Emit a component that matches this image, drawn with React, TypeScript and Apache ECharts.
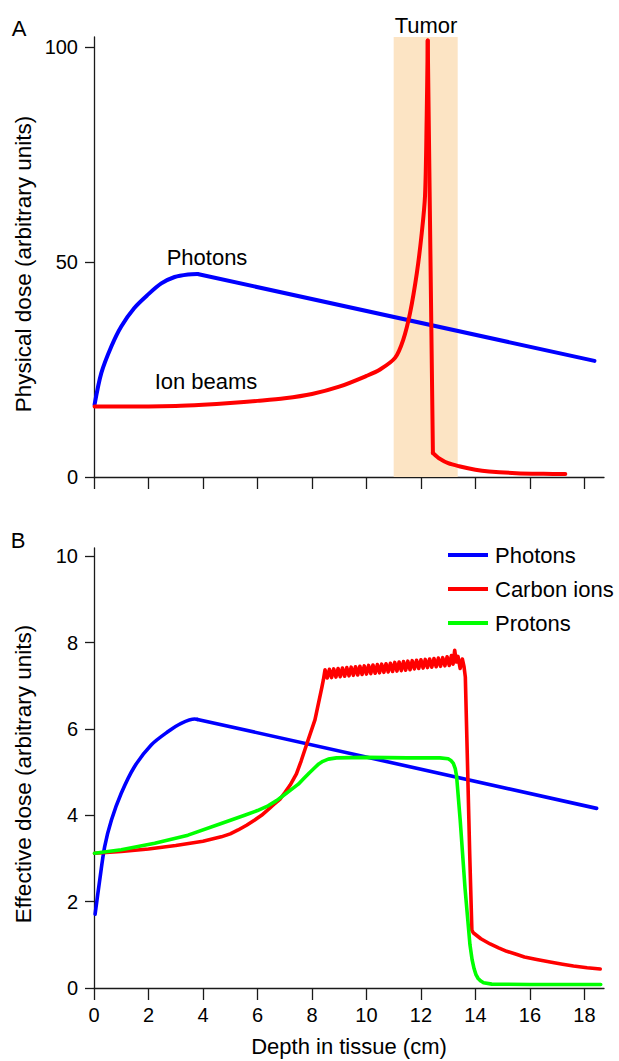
import React, { useEffect, useRef } from 'react';
import * as echarts from 'echarts';

const FONT = '"Liberation Sans", Arial, Helvetica, sans-serif';

// Axis ticks
const DEPTH_TICKS = [0, 2, 4, 6, 8, 10, 12, 14, 16, 18];
const PHYS_TICKS = [0, 50, 100];
const EFF_TICKS = [0, 2, 4, 6, 8, 10];

// Panel A – physical dose vs depth (cm)
// photons: build-up region, then exponential-like decline
const physPhotonsBuildUp: [number, number][] = [
  [0.02, 16.8], [0.27, 24.2], [0.64, 30.4], [1.0, 35.0], [1.48, 39.3],
  [1.98, 42.4], [2.47, 45.0], [2.96, 46.5], [3.45, 47.1], [3.8, 47.2],
];
const physPhotonsDecline: [number, number][] = [
  [3.8, 47.2], [18.37, 27.0],
];
// ion beam: entrance plateau and Bragg peak build-up
const physIonsEntrance: [number, number][] = [
  [0.02, 16.4], [1, 16.4], [2, 16.4], [3, 16.5], [4, 16.8], [5, 17.2],
  [6, 17.7], [7, 18.3], [8, 19.3], [9, 21.0], [10, 23.5], [10.5, 25.0],
  [11.05, 27.7], [11.35, 31.9], [11.6, 38.1], [11.85, 47.4], [12.03, 56.7],
  [12.15, 65.3], [12.21, 83.0], [12.25, 101.5],
];
// ion beam: distal fall-off and fragmentation tail
const physIonsFalloff: [number, number][] = [
  [12.25, 101.5], [12.44, 5.6],
];
const physIonsTail: [number, number][] = [
  [12.44, 5.6], [12.7, 4.2], [13.0, 3.2], [13.4, 2.5], [14.0, 1.7],
  [14.5, 1.3], [15.5, 0.9], [16.5, 0.75], [17.3, 0.7],
];
const tumorRange = [11.0, 13.35];

// Panel B – effective dose vs depth (cm)
const effPhotonsBuildUp: [number, number][] = [
  [0.04, 1.71], [0.21, 2.5], [0.39, 3.27], [0.64, 3.89], [1.0, 4.51],
  [1.49, 5.13], [2.1, 5.63], [2.72, 5.94], [3.2, 6.13], [3.7, 6.23],
  [3.8, 6.22],
];
const effPhotonsDecline: [number, number][] = [
  [3.8, 6.22], [18.45, 4.16],
];
const effCarbon: [number, number][] = [
  [0.02, 3.12], [1.0, 3.16], [2.0, 3.22], [3.0, 3.3], [4.0, 3.4],
  [4.67, 3.5], [5.0, 3.57], [5.29, 3.66], [5.6, 3.77], [5.9, 3.89],
  [6.15, 4.0], [6.39, 4.13], [6.6, 4.25], [6.82, 4.37], [7.0, 4.52],
  [7.2, 4.7], [7.43, 4.96], [7.6, 5.25], [7.81, 5.65], [8.11, 6.21],
  [8.36, 6.95], [8.42, 7.14],
  [8.48, 7.37], [8.56, 7.18], [8.64, 7.38], [8.72, 7.19], [8.80, 7.39],
  [8.88, 7.20], [8.96, 7.40], [9.04, 7.21], [9.12, 7.41], [9.20, 7.22],
  [9.28, 7.42], [9.36, 7.23], [9.44, 7.43], [9.52, 7.24], [9.60, 7.44],
  [9.68, 7.25], [9.76, 7.45], [9.84, 7.26], [9.92, 7.46], [10.00, 7.27],
  [10.08, 7.47], [10.16, 7.28], [10.24, 7.48], [10.32, 7.29], [10.40, 7.49],
  [10.48, 7.30], [10.56, 7.50], [10.64, 7.31], [10.72, 7.51], [10.80, 7.32],
  [10.88, 7.52], [10.96, 7.33], [11.04, 7.54], [11.12, 7.34], [11.20, 7.55],
  [11.28, 7.35], [11.36, 7.56], [11.44, 7.36], [11.52, 7.57], [11.60, 7.37],
  [11.68, 7.58], [11.76, 7.39], [11.84, 7.59], [11.92, 7.40], [12.00, 7.60],
  [12.08, 7.41], [12.16, 7.61], [12.24, 7.42], [12.32, 7.62], [12.40, 7.43],
  [12.48, 7.63], [12.56, 7.44], [12.64, 7.64], [12.72, 7.45], [12.80, 7.65],
  [12.88, 7.46], [12.96, 7.67], [13.04, 7.47], [13.12, 7.70], [13.18, 7.50],
  [13.24, 7.82], [13.30, 7.55], [13.36, 7.68], [13.44, 7.40], [13.52, 7.62],
  [13.58, 7.45], [13.63, 7.20], [13.70, 5.44], [13.79, 3.12], [13.87, 1.34],
  [13.92, 1.28], [14.2, 1.14], [14.54, 1.02], [14.85, 0.93], [15.15, 0.85],
  [15.5, 0.78], [15.8, 0.72], [16.25, 0.66], [16.74, 0.6], [17.2, 0.55],
  [17.6, 0.51], [18.1, 0.47], [18.58, 0.44],
];
const effProtons: [number, number][] = [
  [0.02, 3.12], [1.0, 3.2], [2.23, 3.35], [3.45, 3.54], [4.67, 3.81],
  [5.53, 4.0], [6.0, 4.11], [6.39, 4.22], [6.7, 4.34], [7.0, 4.48],
  [7.25, 4.6], [7.5, 4.72], [7.7, 4.85], [7.9, 4.98], [8.1, 5.1],
  [8.25, 5.19], [8.4, 5.25], [8.6, 5.3], [8.9, 5.33], [10.0, 5.34],
  [11.5, 5.33], [12.7, 5.33], [13.0, 5.31], [13.1, 5.27], [13.19, 5.2],
  [13.26, 5.08], [13.31, 4.9], [13.44, 3.9], [13.62, 2.3], [13.8, 1.0],
  [13.88, 0.65], [13.95, 0.45], [14.02, 0.31], [14.1, 0.22], [14.2, 0.16],
  [14.3, 0.12], [14.6, 0.09], [16.0, 0.08], [18.6, 0.08],
];

const LEGEND_NAMES = ['Photons', 'Carbon ions', 'Protons'];

const BLUE = '#0000ff';
const RED = '#ff0000';
const GREEN = '#00ff00';
const AXIS_COLOR = '#1a1a1a';

function xAxisFor(gridIndex: number, withLabels: boolean) {
  return {
    type: 'value',
    gridIndex,
    min: 0,
    max: 18.72,
    axisLine: { show: true, onZero: false, lineStyle: { color: AXIS_COLOR, width: 1.3 } },
    axisTick: { show: true, length: 12, customValues: DEPTH_TICKS, lineStyle: { color: AXIS_COLOR, width: 1.3 } },
    axisLabel: {
      show: withLabels,
      customValues: DEPTH_TICKS,
      fontSize: 20,
      fontFamily: FONT,
      color: '#000',
      margin: 17,
    },
    splitLine: { show: false },
    ...(withLabels
      ? {
          name: 'Depth in tissue (cm)',
          nameLocation: 'middle',
          nameGap: 47,
          nameTextStyle: { fontSize: 22, fontFamily: FONT, color: '#000' },
        }
      : {}),
  };
}

function yAxisFor(gridIndex: number, max: number, ticks: number[]) {
  return {
    type: 'value',
    gridIndex,
    min: 0,
    max,
    axisLine: { show: true, onZero: false, lineStyle: { color: AXIS_COLOR, width: 1.3 } },
    axisTick: { show: true, length: 9, customValues: ticks, lineStyle: { color: AXIS_COLOR, width: 1.3 } },
    axisLabel: {
      customValues: ticks,
      fontSize: 20,
      fontFamily: FONT,
      color: '#000',
      margin: 16,
    },
    splitLine: { show: false },
  };
}

function txt(text: string, x: number, y: number, size = 22, extra: any = {}) {
  return {
    type: 'text',
    x,
    y,
    ...extra,
    style: {
      text,
      fill: '#000',
      fontSize: size,
      fontFamily: FONT,
      align: 'center',
      verticalAlign: 'middle',
    },
  };
}

export default function App() {
  const ref = useRef<HTMLDivElement>(null);

  useEffect(() => {
    if (!ref.current) return;
    const chart = echarts.init(ref.current, null, { renderer: 'svg' });
    const lineSeries = (
      name: string,
      data: [number, number][],
      color: string,
      width: number,
      idx: number,
      extra: any = {},
    ) => ({
      type: 'line',
      name,
      data,
      xAxisIndex: idx,
      yAxisIndex: idx,
      showSymbol: false,
      symbol: 'none',
      color,
      lineStyle: { color, width, join: 'round', cap: 'round' },
      emphasis: { disabled: true },
      ...extra,
    });
    const smooth = { smooth: 0.3 };

    chart.setOption({
      animation: false,
      backgroundColor: '#ffffff',
      textStyle: { fontFamily: FONT },
      grid: [
        { left: 94, top: 37, width: 510, height: 440, outerBoundsMode: 'none' },
        { left: 94, top: 548, width: 510, height: 440, outerBoundsMode: 'none' },
      ],
      xAxis: [xAxisFor(0, false), xAxisFor(1, true)],
      yAxis: [yAxisFor(0, 102.3, PHYS_TICKS), yAxisFor(1, 10.19, EFF_TICKS)],
      legend: {
        data: LEGEND_NAMES,
        orient: 'vertical',
        left: 448,
        top: 544,
        padding: 0,
        itemWidth: 40,
        itemHeight: 4,
        itemGap: 12,
        icon: 'rect',
        selectedMode: false,
        textStyle: { fontSize: 22, fontFamily: FONT, color: '#000', lineHeight: 22, padding: [0, 0, 0, 2] },
      },
      series: [
        lineSeries('Photons', physPhotonsBuildUp, BLUE, 4, 0, {
          ...smooth,
          markArea: {
            silent: true,
            itemStyle: { color: '#fce4c4' },
            data: [[{ xAxis: tumorRange[0], yAxis: 0 }, { xAxis: tumorRange[1], yAxis: 102.3 }]],
          },
        }),
        lineSeries('Photons', physPhotonsDecline, BLUE, 4, 0),
        lineSeries('Ion beams', physIonsEntrance, RED, 4, 0, smooth),
        lineSeries('Ion beams', physIonsFalloff, RED, 4, 0),
        lineSeries('Ion beams', physIonsTail, RED, 4, 0, smooth),
        lineSeries('Photons', effPhotonsBuildUp, BLUE, 3.6, 1, smooth),
        lineSeries('Photons', effPhotonsDecline, BLUE, 3.6, 1),
        lineSeries('Carbon ions', effCarbon, RED, 3.6, 1),
        lineSeries('Protons', effProtons, GREEN, 3.6, 1),
      ],
      graphic: [
        txt('A', 19, 28),
        txt('B', 18, 540),
        txt('Tumor', 426, 25),
        txt('Photons', 207, 257),
        txt('Ion beams', 206, 381),
        txt('Physical dose (arbitrary units)', 23, 264, 22.5, { rotation: Math.PI / 2 }),
        txt('Effective dose (arbitrary units)', 23, 774, 22.5, { rotation: Math.PI / 2 }),
      ],
    });
    return () => chart.dispose();
  }, []);

  return (
    <div
      ref={ref}
      style={{ position: 'fixed', left: 0, top: 0, width: 619, height: 1061, background: '#fff' }}
    />
  );
}
